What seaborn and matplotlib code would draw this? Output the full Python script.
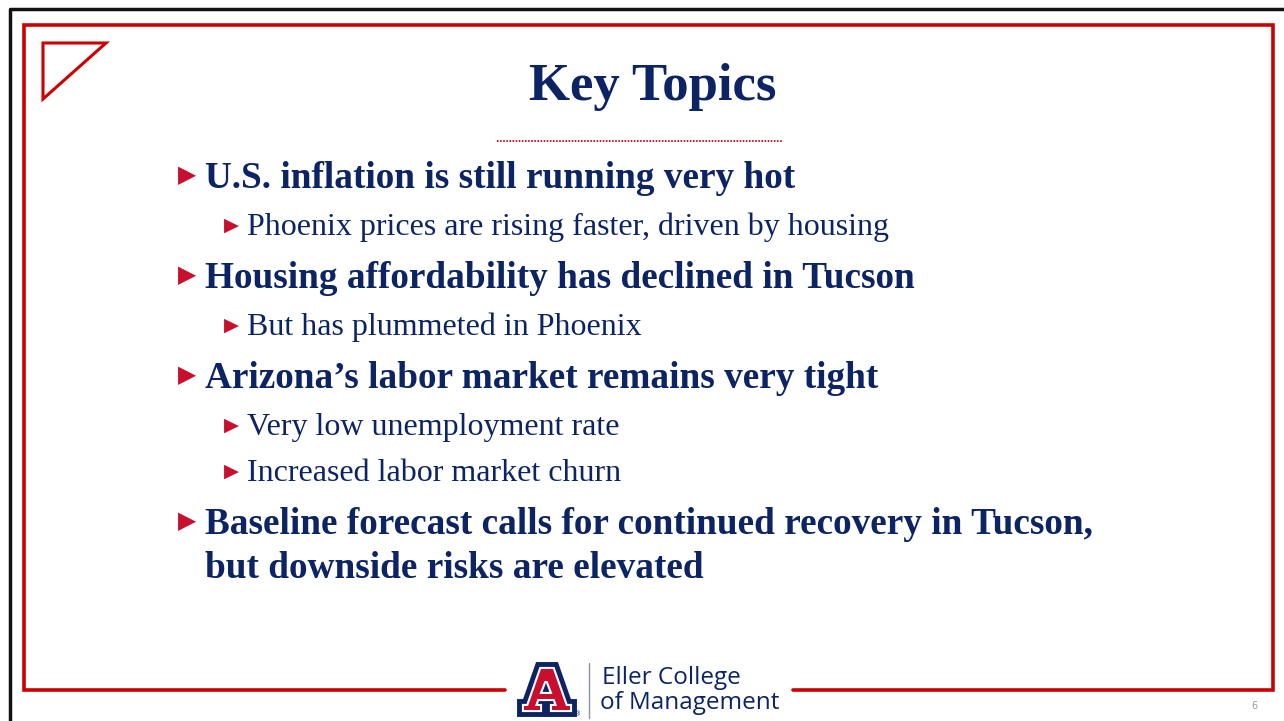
import matplotlib
matplotlib.use("Agg")
import matplotlib.pyplot as plt
import matplotlib.patheffects as pe
from matplotlib.path import Path
from matplotlib.patches import PathPatch
import seaborn as sns

sns.set_theme(style="white")
plt.rcParams['font.family'] = ['Liberation Serif', 'DejaVu Serif']

NAVY = "#0c2463"
RED = "#c8102e"
FRAME_RED = "#cc0000"

title = "Key Topics"
bullets = [
    "U.S. inflation is still running very hot",
    "Phoenix prices are rising faster, driven by housing",
    "Housing affordability has declined in Tucson",
    "But has plummeted in Phoenix",
    "Arizona\u2019s labor market remains very tight",
    "Very low unemployment rate",
    "Increased labor market churn",
    "Baseline forecast calls for continued recovery in Tucson,\nbut downside risks are elevated",
]
levels = [1, 2, 1, 2, 1, 2, 2, 1]
logo_lines = ["Eller College", "of Management"]
page_number = "6"

fig = plt.figure(figsize=(12.84, 7.21), dpi=100)
ax = fig.add_axes([0, 0, 1, 1])
ax.set_xlim(0, 1284)
ax.set_ylim(721, 0)
ax.axis("off")

# outer black border (top and left only visible)
ax.plot([10, 10, 1284], [721, 8.5, 8.5], color="#111111", lw=2.5, solid_capstyle="butt")

# red frame, bottom broken around the logo
ax.plot([505, 24, 24, 1273, 1273, 793], [690, 690, 24.5, 24.5, 690, 690],
        color=FRAME_RED, lw=2.6, solid_joinstyle="miter")

# corner triangle
ax.add_patch(plt.Polygon([[43, 43], [106, 43], [43, 99]], closed=True,
                         fill=False, ec=FRAME_RED, lw=2.2))

# title and dotted rule
ax.text(653, 87, title, ha="center", va="center", fontsize=38,
        fontweight="bold", color=NAVY)
ax.plot([497, 783], [141, 141], color=RED, lw=1.4, ls=(0, (0.8, 0.8)))

# bullet list
y = 174
prev = None
for text, lev in zip(bullets, levels):
    if prev is not None:
        y += 46 if (lev == 2 and prev == 2) else 50
    if lev == 1:
        bx, tx, size, weight, bsize = 187, 205, 26.8, "bold", 17
    else:
        bx, tx, size, weight, bsize = 231, 247, 23, "normal", 14
    ax.text(bx, y + 1, "\u25B6", ha="center", va="center", fontsize=bsize,
            color=RED, family="DejaVu Sans")
    for i, line in enumerate(text.split("\n")):
        if i > 0:
            y += 45
        ax.text(tx, y, line, ha="left", va="center_baseline", fontsize=size,
                fontweight=weight, color=NAVY)
    prev = lev

# logo block A: red core, white rim, navy outer rim
outer = [(541, 669), (553, 669), (566, 706), (570, 706), (570, 710), (552, 710),
         (552, 706), (557, 706), (554.5, 699), (537.5, 699), (535, 706), (540, 706),
         (540, 710), (524, 710), (524, 706), (528, 706), (541, 669)]
hole = [(544.5, 681), (539.5, 694), (552.5, 694), (547.5, 681), (544.5, 681)]
verts = outer + hole
codes = ([Path.MOVETO] + [Path.LINETO] * (len(outer) - 2) + [Path.CLOSEPOLY] +
         [Path.MOVETO] + [Path.LINETO] * (len(hole) - 2) + [Path.CLOSEPOLY])
a_patch = PathPatch(Path(verts, codes), fc=RED, ec="none", joinstyle="miter")
a_patch.set_path_effects([
    pe.Stroke(linewidth=10, foreground=NAVY, joinstyle="miter"),
    pe.Stroke(linewidth=3, foreground="white", joinstyle="miter"),
    pe.Normal()])
ax.add_patch(a_patch)
ax.text(578, 714, "\u00AE", fontsize=5, color=NAVY, ha="center", va="center",
        family="DejaVu Sans")
ax.plot([589, 589], [663, 718], color="#8a93a8", lw=1)
ax.text(602, 678, logo_lines[0], ha="left", va="center", fontsize=17.5,
        color=NAVY, family="Open Sans")
ax.text(600, 703, logo_lines[1], ha="left", va="center", fontsize=17.5,
        color=NAVY, family="Open Sans")

ax.text(1254, 706, page_number, ha="center", va="center", fontsize=7,
        color="#9a9a9a", family="DejaVu Sans")

fig.savefig("out.png", dpi=100)
